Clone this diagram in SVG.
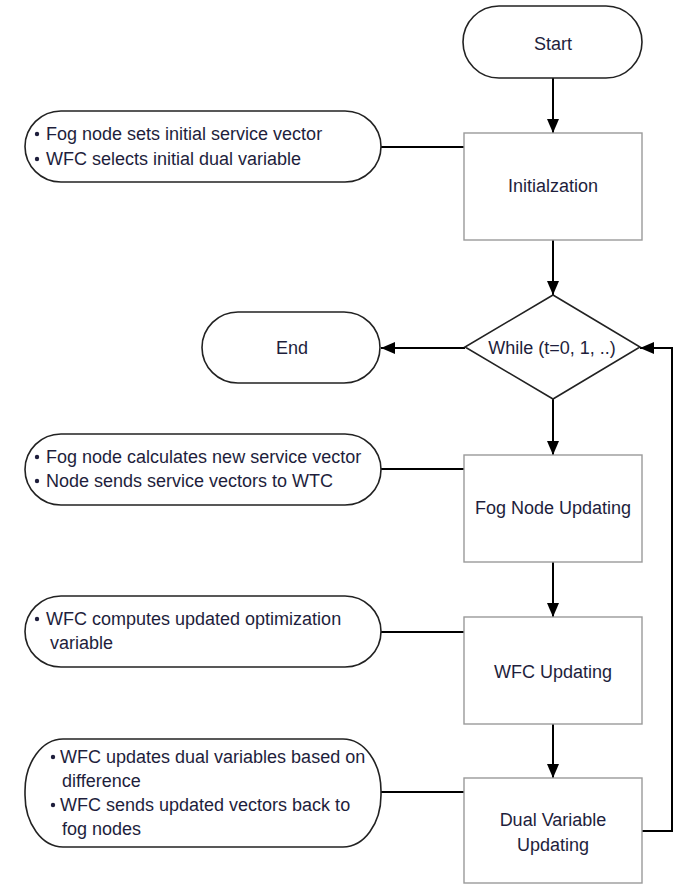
<svg xmlns="http://www.w3.org/2000/svg" width="688" height="884" viewBox="0 0 688 884">
<defs>
<marker id="arr" markerWidth="14" markerHeight="12" refX="14" refY="6" orient="auto" markerUnits="userSpaceOnUse">
<path d="M0,0 L14,6 L0,12 Z" fill="#000"/>
</marker>
<style>
.term{fill:#fff;stroke:#222;stroke-width:1.6}
.proc{fill:#fff;stroke:#9a9a9a;stroke-width:1.4}
.dec{fill:#fff;stroke:#222;stroke-width:1.6}
.note{fill:#fff;stroke:#222;stroke-width:1.6}
.t{font-family:"Liberation Sans",Arial,sans-serif;font-size:18px;fill:#1e1e3c;text-anchor:middle}
.n{font-family:"Liberation Sans",Arial,sans-serif;font-size:18px;fill:#1e1e3c}
.b{fill:#1e1e3c}
.c{fill:none;stroke:#000;stroke-width:2}
</style>
</defs>
<rect width="688" height="884" fill="#fff"/>
<g id="connectors">
<line class="c" x1="553" y1="78" x2="553" y2="133" marker-end="url(#arr)"/>
<line class="c" x1="553" y1="240" x2="553" y2="295" marker-end="url(#arr)"/>
<line class="c" x1="465" y1="348" x2="381" y2="348" marker-end="url(#arr)"/>
<line class="c" x1="553" y1="398" x2="553" y2="455" marker-end="url(#arr)"/>
<line class="c" x1="553" y1="562" x2="553" y2="617" marker-end="url(#arr)"/>
<line class="c" x1="553" y1="724" x2="553" y2="778" marker-end="url(#arr)"/>
<polyline class="c" points="642,831 672,831 672,348 640,348" marker-end="url(#arr)"/>
<line class="c" x1="381" y1="147" x2="464" y2="147"/>
<line class="c" x1="381" y1="469" x2="464" y2="469"/>
<line class="c" x1="381" y1="632" x2="464" y2="632"/>
<line class="c" x1="381" y1="792" x2="464" y2="792"/>
</g>
<g id="start">
<rect class="term" x="463" y="6" width="179" height="72" rx="36" ry="36"/>
<text class="t" x="553" y="50">Start</text>
</g>
<g id="init">
<rect class="proc" x="464" y="133" width="178" height="107"/>
<text class="t" x="553" y="192">Initialzation</text>
</g>
<g id="note-init">
<rect class="note" x="25" y="111" width="356" height="71" rx="36" ry="36"/>
<circle class="b" cx="37" cy="134" r="2.2"/>
<text class="n" x="46" y="140">Fog node sets initial service vector</text>
<circle class="b" cx="37" cy="159" r="2.2"/>
<text class="n" x="46" y="165">WFC selects initial dual variable</text>
</g>
<g id="while">
<polygon class="dec" points="553,295 640,347 553,399 465,347"/>
<text class="t" x="552" y="354">While (t=0, 1, ..)</text>
</g>
<g id="end">
<rect class="term" x="202" y="312" width="178" height="71" rx="36" ry="36"/>
<text class="t" x="292" y="354">End</text>
</g>
<g id="fog">
<rect class="proc" x="464" y="455" width="178" height="107"/>
<text class="t" x="553" y="514">Fog Node Updating</text>
</g>
<g id="note-fog">
<rect class="note" x="25" y="434" width="356" height="71" rx="36" ry="36"/>
<circle class="b" cx="37" cy="457" r="2.2"/>
<text class="n" x="46" y="463">Fog node calculates new service vector</text>
<circle class="b" cx="37" cy="481" r="2.2"/>
<text class="n" x="46" y="487">Node sends service vectors to WTC</text>
</g>
<g id="wfc">
<rect class="proc" x="464" y="617" width="178" height="107"/>
<text class="t" x="553" y="678">WFC Updating</text>
</g>
<g id="note-wfc">
<rect class="note" x="25" y="596" width="356" height="71" rx="36" ry="36"/>
<circle class="b" cx="37" cy="619" r="2.2"/>
<text class="n" x="46" y="625">WFC computes updated optimization</text>
<text class="n" x="50" y="649">variable</text>
</g>
<g id="dual">
<rect class="proc" x="464" y="778" width="178" height="105"/>
<text class="t" x="553" y="826">Dual Variable</text>
<text class="t" x="553" y="851">Updating</text>
</g>
<g id="note-dual">
<rect class="note" x="25" y="739" width="356" height="108" rx="38" ry="52"/>
<circle class="b" cx="53" cy="757" r="2.2"/>
<text class="n" x="60" y="763">WFC updates dual variables based on</text>
<text class="n" x="62" y="787">difference</text>
<circle class="b" cx="53" cy="805" r="2.2"/>
<text class="n" x="60" y="811">WFC sends updated vectors back to</text>
<text class="n" x="62" y="835">fog nodes</text>
</g>
</svg>
